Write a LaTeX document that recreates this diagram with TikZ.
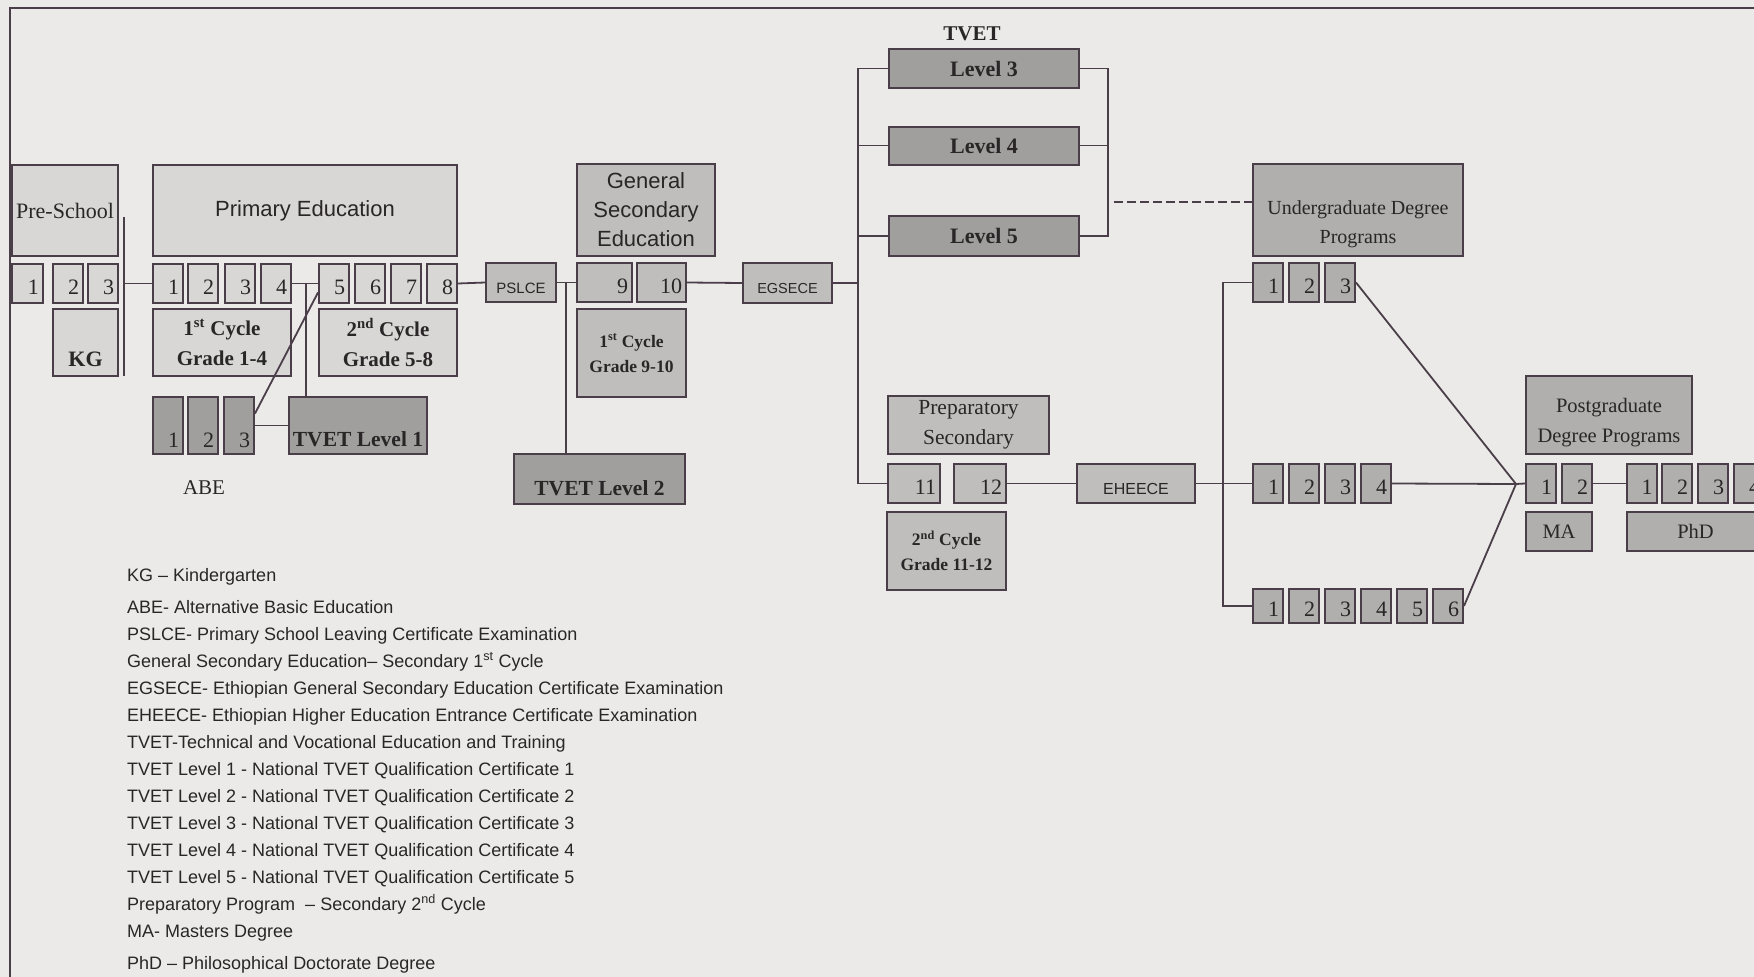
\documentclass[tikz,border=0pt]{standalone}
\usepackage{fontspec}
\setmainfont{Liberation Serif}
\setsansfont{Liberation Sans}
\usepackage{tikz}

\definecolor{paper}{HTML}{ECEAE9}
\definecolor{edge}{HTML}{4A3F48}
\definecolor{ink}{HTML}{2A2628}
\definecolor{litefill}{HTML}{D9D6D6}
\definecolor{midfill}{HTML}{C0BDBD}
\definecolor{deepfill}{HTML}{B1AEAE}
\definecolor{darkfill}{HTML}{A19E9E}

\begin{document}
\begin{tikzpicture}[x=1pt, y=-1pt]
    \tikzstyle{every node} = [text=ink]
    \tikzstyle{box} = [draw=edge, line width=2pt, inner sep=0pt, align=center]
    \tikzstyle{lite} = [box, fill=litefill]
    \tikzstyle{mid} = [box, fill=midfill]
    \tikzstyle{deep} = [box, fill=deepfill]
    \tikzstyle{dark} = [box, fill=darkfill]
    \tikzstyle{num} = [text width=22pt, align=right, inner xsep=4pt, minimum height=39pt,
                       text height=21pt, text depth=0pt, font=\fontsize{22}{26}\selectfont]
    \tikzstyle{exam} = [minimum height=39pt, text height=21pt, text depth=0pt]
    \tikzstyle{link} = [draw=edge, line width=1.8pt]

    \useasboundingbox (0,0) rectangle (1754,977);
    \clip (0,0) rectangle (1754,977);
    \fill [paper] (0,0) rectangle (1754,977);
    \draw [link, line width=2.2pt] (1754,8) -- (10,8) -- (10,977);

    % Pre-school and KG
    \node [lite, minimum width=106pt, minimum height=91pt, font=\fontsize{22}{26}\selectfont] (PreSchool) at (65,210.5) {Pre-School};
    \node [lite, num, text width=23pt] (PS1) at (27.5,283.5) {1};
    \node [lite, num] (PS2) at (68,283.5) {2};
    \node [lite, num] (PS3) at (103,283.5) {3};
    \node [lite, minimum width=65pt, minimum height=67pt, text height=48pt, text depth=0pt,
           font=\bfseries\fontsize{22}{26}\selectfont] (KG) at (85.5,342.5) {KG};
    \coordinate (psTop) at (124,217);
    \coordinate (psBot) at (124,376);
    \draw [link] (psTop) -- (psBot);

    % Primary education, grades 1-8
    \node [lite, minimum width=304pt, minimum height=91pt, font=\sffamily\fontsize{22}{26}\selectfont] (Primary) at (305,210.5) {Primary Education};
    \node [lite, num] (P1) at (168,283.5) {1};
    \node [lite, num] (P2) at (203,283.5) {2};
    \node [lite, num] (P3) at (240,283.5) {3};
    \node [lite, num] (P4) at (276,283.5) {4};
    \node [lite, num] (P5) at (334,283.5) {5};
    \node [lite, num] (P6) at (370,283.5) {6};
    \node [lite, num] (P7) at (406,283.5) {7};
    \node [lite, num] (P8) at (442,283.5) {8};
    \node [lite, minimum width=138pt, minimum height=67pt, font=\bfseries\fontsize{21}{30}\selectfont] (Cyc1) at (222,342.5) {1\textsuperscript{st} Cycle\\Grade 1-4};
    \node [lite, minimum width=138pt, minimum height=67pt, font=\bfseries\fontsize{21}{30}\selectfont] (Cyc2) at (388,342.5) {2\textsuperscript{nd} Cycle\\Grade 5-8};
    \draw [link] (P1.west) -- (P1.west -| psTop);
    \draw [link] (P4.east) -- (P5.west);

    % ABE and TVET level 1
    \node [dark, num, minimum height=57pt, text height=43pt] (ABE1) at (168,425.5) {1};
    \node [dark, num, minimum height=57pt, text height=43pt] (ABE2) at (203,425.5) {2};
    \node [dark, num, minimum height=57pt, text height=43pt] (ABE3) at (239,425.5) {3};
    \node [font=\fontsize{21}{24}\selectfont] (ABE) at (204,488) {ABE};
    \node [dark, minimum width=138pt, minimum height=57pt, text height=41pt, text depth=0pt,
           font=\bfseries\fontsize{21.5}{26}\selectfont] (TVET1) at (358,425.5) {TVET Level 1};
    \coordinate (t1Join) at (306,283.5);
    \draw [link] (t1Join) -- (t1Join |- TVET1.north);
    \draw [link] ([yshift=12pt]ABE3.east) -- ([yshift=-9pt]P5.west);
    \draw [link] (ABE3.east) -- (TVET1.west);

    % PSLCE and general secondary
    \node [mid, exam, minimum width=70pt, font=\sffamily\fontsize{15}{18}\selectfont] (PSLCE) at (521,282.5) {PSLCE};
    \draw [link] (P8.east) -- (PSLCE.west);
    \node [mid, minimum width=138pt, minimum height=92pt, font=\sffamily\fontsize{22}{29}\selectfont] (GenSec) at (646,210) {General\\Secondary\\Education};
    \node [mid, num, text width=47pt] (G9) at (604.5,282.5) {9};
    \node [mid, num, text width=41pt] (G10) at (661.5,282.5) {10};
    \node [mid, minimum width=109pt, minimum height=88pt, font=\bfseries\fontsize{17.5}{25}\selectfont] (Cyc3) at (631.5,353) {1\textsuperscript{st} Cycle\\Grade 9-10};
    \node [dark, minimum width=171pt, minimum height=50pt, text height=33pt, text depth=0pt,
           font=\bfseries\fontsize{21.5}{26}\selectfont] (TVET2) at (599.5,479) {TVET Level 2};
    \draw [link] (PSLCE.east) -- (G9.west);
    \coordinate (gsJoin) at (566,282.5);
    \draw [link] (gsJoin) -- (gsJoin |- TVET2.north);
    \node [mid, exam, minimum width=89pt, minimum height=40pt, font=\sffamily\fontsize{14.5}{18}\selectfont] (EGSECE) at (787.5,283) {EGSECE};
    \draw [link] (G10.east) -- (EGSECE.west);

    % TVET levels 3-5
    \node [font=\bfseries\fontsize{21}{24}\selectfont] (TVET) at (972,34) {TVET};
    \node [dark, minimum width=190pt, minimum height=39pt, font=\bfseries\fontsize{22}{26}\selectfont] (Level3) at (984,68.5) {Level 3};
    \node [dark, minimum width=190pt, minimum height=38pt, font=\bfseries\fontsize{22}{26}\selectfont] (Level4) at (984,145.5) {Level 4};
    \node [dark, minimum width=190pt, minimum height=40pt, font=\bfseries\fontsize{22}{26}\selectfont] (Level5) at (984,236) {Level 5};
    \coordinate (trunk) at (858,68.5);
    \coordinate (rbar) at (1108,68.5);
    \draw [link] (EGSECE.east) -- (EGSECE.east -| trunk);
    \draw [link] (Level4.west) -- (Level4.west -| trunk);
    \draw [link] (Level5.west) -- (Level5.west -| trunk);
    \draw [link] (Level3.east) -- (rbar) |- (Level5.east);
    \draw [link] (Level4.east) -- (Level4.east -| rbar);

    % Preparatory secondary, grades 11-12
    \node [mid, minimum width=161pt, minimum height=58pt, font=\fontsize{21.5}{30}\selectfont] (Prep) at (968.5,425) {Preparatory\\Secondary};
    \node [mid, num, text width=44pt] (G11) at (914,483.5) {11};
    \node [mid, num, text width=44pt] (G12) at (980,483.5) {12};
    \node [mid, minimum width=119pt, minimum height=78pt, font=\bfseries\fontsize{17.5}{25}\selectfont] (Cyc4) at (946.5,551) {2\textsuperscript{nd} Cycle\\Grade 11-12};
    \draw [link] (Level3.west) -- (trunk) |- (G11.west);
    \node [mid, exam, minimum width=118pt, font=\sffamily\fontsize{16}{18}\selectfont] (EHEECE) at (1136,483.5) {EHEECE};
    \draw [link] (G12.east) -- (EHEECE.west);

    % Undergraduate degree programs
    \node [deep, minimum width=210pt, minimum height=92pt,
           label={[yshift=-14pt, align=center, font=\fontsize{20}{29}\selectfont]center:Undergraduate Degree\\Programs}] (UG) at (1358,210) {};
    \coordinate (dashL) at (1114,202);
    \draw [link, dash pattern=on 9pt off 4pt] (dashL) -- (dashL -| UG.west);
    \node [deep, num] (U3a) at (1268,282.5) {1};
    \node [deep, num] (U3b) at (1304,282.5) {2};
    \node [deep, num] (U3c) at (1340,282.5) {3};
    \node [deep, num] (U4a) at (1268,483.5) {1};
    \node [deep, num] (U4b) at (1304,483.5) {2};
    \node [deep, num] (U4c) at (1340,483.5) {3};
    \node [deep, num] (U4d) at (1376,483.5) {4};
    \node [deep, num, minimum height=34pt] (U6a) at (1268,606) {1};
    \node [deep, num, minimum height=34pt] (U6b) at (1304,606) {2};
    \node [deep, num, minimum height=34pt] (U6c) at (1340,606) {3};
    \node [deep, num, minimum height=34pt] (U6d) at (1376,606) {4};
    \node [deep, num, minimum height=34pt] (U6e) at (1412,606) {5};
    \node [deep, num, minimum height=34pt] (U6f) at (1448,606) {6};
    \draw [link] (EHEECE.east) -- (U4a.west);
    \coordinate (ugBar) at (1223,282.5);
    \draw [link] (U3a.west) -- (ugBar) |- (U6a.west);

    % Postgraduate degree programs
    \node [deep, minimum width=166pt, minimum height=78pt,
           label={[yshift=-8pt, align=center, font=\fontsize{20.5}{30}\selectfont]center:Postgraduate\\Degree Programs}] (PG) at (1609,415) {};
    \node [deep, num] (MA1) at (1541,483.5) {1};
    \node [deep, num] (MA2) at (1577,483.5) {2};
    \node [deep, minimum width=66pt, minimum height=39pt, font=\fontsize{20.5}{24}\selectfont] (MA) at (1559,531.5) {MA};
    \node [deep, num] (PhD1) at (1641.5,483.5) {1};
    \node [deep, num] (PhD2) at (1677,483.5) {2};
    \node [deep, num] (PhD3) at (1713,483.5) {3};
    \node [deep, num] (PhD4) at (1749,483.5) {4};
    \node [deep, minimum width=137pt, minimum height=39pt, font=\fontsize{20.5}{24}\selectfont] (PhD) at (1695.5,531.5) {PhD};
    \coordinate (apex) at (1516,484);
    \draw [link] (U3c.east) -- (apex);
    \draw [link] (U4d.east) -- (apex);
    \draw [link] (U6f.east) -- (apex);
    \draw [link] (apex) -- (MA1.west);
    \draw [link] (MA2.east) -- (PhD1.west);

    % Legend
    \node [anchor=north west, inner sep=0pt, align=left, font=\sffamily\fontsize{18}{27}\selectfont] (Legend) at (127,568) {%
        KG – Kindergarten\\[5pt]
        ABE- Alternative Basic Education\\
        PSLCE- Primary School Leaving Certificate Examination\\
        General Secondary Education– Secondary 1\textsuperscript{st} Cycle\\
        EGSECE- Ethiopian General Secondary Education Certificate Examination\\
        EHEECE- Ethiopian Higher Education Entrance Certificate Examination\\
        TVET-Technical and Vocational Education and Training\\
        TVET Level 1 - National TVET Qualification Certificate 1\\
        TVET Level 2 - National TVET Qualification Certificate 2\\
        TVET Level 3 - National TVET Qualification Certificate 3\\
        TVET Level 4 - National TVET Qualification Certificate 4\\
        TVET Level 5 - National TVET Qualification Certificate 5\\
        Preparatory Program \ – Secondary 2\textsuperscript{nd} Cycle\\
        MA- Masters Degree\\[5pt]
        PhD – Philosophical Doctorate Degree};
\end{tikzpicture}
\end{document}
